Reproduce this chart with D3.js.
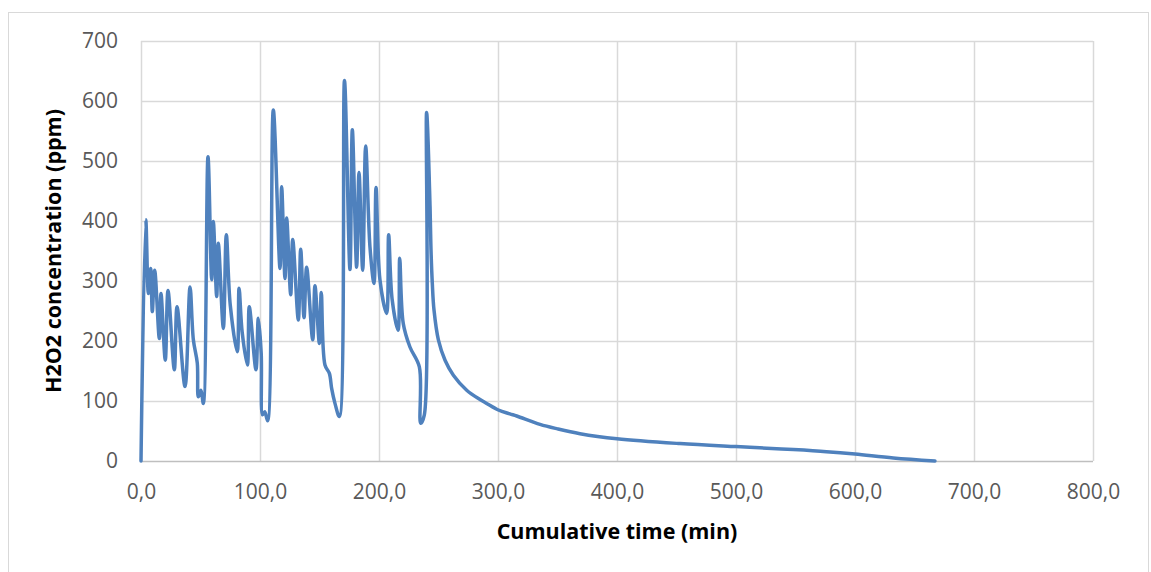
<!DOCTYPE html>
<meta charset="utf-8">
<body style="margin:0;background:#fff">
<script src="https://d3js.org/d3.v7.min.js"></script>
<div id="my_dataviz"></div>
</body>

<script>

// Cumulative time (min) and H2O2 concentration (ppm)
var timeMin = [0, 4, 6.2, 8.1, 9.5, 11.5, 15.4, 16.8, 20.4, 22.7, 28, 30.3, 37, 41.2, 44, 47.3, 48.2, 50.4, 52.4,
  56.3, 59.4, 60.8, 63.6, 65, 69.2, 71.7, 75, 80.9, 82.4, 85, 89.4, 91, 96.6, 98.6, 101, 102.2, 104, 106.4,
  111.2, 116.8, 118.2, 121, 122.4, 125.8, 127.5, 132.2, 134.2, 137, 139.2, 144.3, 146.2, 149.9, 151.5, 154.6, 158.3, 160.2, 163, 166.7,
  171, 175.6, 177.6, 181.2, 183.2, 186.3, 188.8, 192.4, 195.8, 197.5, 200.8, 206.4, 208.1, 211, 216, 217.4, 220.4, 226, 233.9, 235, 238.1,
  240, 242.9, 243.7, 244.8, 246.2, 249.9, 255.5, 262.5, 273.7, 284.9, 290.5, 300.3, 310, 315.7, 335.3, 350, 368.9, 400, 452.9, 500, 520, 548.2, 576, 600, 632.2, 667.2]
var h2o2Ppm = [0, 402, 279, 321, 249, 318, 204, 279, 168, 284, 152, 257, 124, 290, 202, 163, 107, 118, 96,
  507, 302, 399, 274, 363, 221, 377, 260, 182, 288, 215, 160, 257, 152, 238, 180, 77, 82, 67,
  585, 321, 457, 304, 405, 277, 369, 235, 353, 239, 323, 202, 292, 196, 281, 160, 146, 121, 96, 74,
  634, 319, 552, 323, 481, 318, 525, 357, 296, 456, 302, 246, 377, 270, 218, 338, 229, 190, 157, 63, 77,
  581, 424, 352, 296, 252, 202, 168, 143, 118, 102.5, 96, 85, 78.5, 75, 61, 53.5, 45.5, 37, 29, 24, 22, 19, 15.5, 11.5, 5, 0]

var xTicks = [0, 100, 200, 300, 400, 500, 600, 700, 800]
var yTicks = [0, 100, 200, 300, 400, 500, 600, 700]

var data = timeMin.map(function(t, i) { return {t: t, v: h2o2Ppm[i]} })

// Graph dimension
var W = 1151, H = 572
var margin = {top: 41, right: 58, bottom: 111, left: 141},
    width = W - margin.left - margin.right,
    height = H - margin.top - margin.bottom

var root = d3.select("#my_dataviz")
  .append("svg")
    .attr("width", W)
    .attr("height", H)
    .style("display", "block")

// chart frame
root.append("rect")
  .attr("x", 8.5)
  .attr("y", 12.5)
  .attr("width", 1140)
  .attr("height", 600)
  .style("fill", "none")
  .style("stroke", "#d9d9d9")

var svg = root.append("g")
  .attr("transform", "translate(" + margin.left + "," + margin.top + ")")

var x = d3.scaleLinear().domain([0, 800]).range([0, width])
var y = d3.scaleLinear().domain([0, 700]).range([height, 0])

// gridlines
svg.append("g")
  .selectAll("line")
  .data(yTicks.filter(function(d) { return d > 0 }))
  .join("line")
    .attr("x1", 0).attr("x2", width)
    .attr("y1", function(d) { return Math.round(y(d)) + 0.5 })
    .attr("y2", function(d) { return Math.round(y(d)) + 0.5 })
    .style("stroke", "#d9d9d9")
    .style("stroke-width", 1.5)

svg.append("g")
  .selectAll("line")
  .data(xTicks)
  .join("line")
    .attr("x1", function(d) { return Math.round(x(d)) + 0.5 })
    .attr("x2", function(d) { return Math.round(x(d)) + 0.5 })
    .attr("y1", 0).attr("y2", height)
    .style("stroke", "#d9d9d9")
    .style("stroke-width", 1.5)

// x axis line
svg.append("line")
  .attr("x1", 0).attr("x2", width)
  .attr("y1", height + 0.5).attr("y2", height + 0.5)
  .style("stroke", "#bfbfbf")
  .style("stroke-width", 1.5)

// tick labels
var xAxis = d3.axisBottom(x)
  .tickValues(xTicks)
  .tickSize(0)
  .tickPadding(23)
  .tickFormat(function(d) { return d3.format(".1f")(d).replace(".", ",") })
svg.append("g")
  .attr("transform", "translate(0," + height + ")")
  .call(xAxis)
  .call(function(g) { g.select(".domain").remove() })
  .selectAll("text")
    .style("font-family", "'Open Sans', sans-serif")
    .style("font-size", "21px")
    .style("fill", "#595959")

var yAxis = d3.axisLeft(y)
  .tickValues(yTicks)
  .tickSize(0)
  .tickPadding(23)
svg.append("g")
  .call(yAxis)
  .call(function(g) { g.select(".domain").remove() })
  .selectAll("text")
    .style("font-family", "'Open Sans', sans-serif")
    .style("font-size", "21px")
    .style("fill", "#595959")

// the line (smoothed like the spreadsheet's line)
svg.append("path")
  .datum(data)
  .attr("d", d3.line()
    .x(function(d) { return x(d.t) })
    .y(function(d) { return y(d.v) })
    .curve(d3.curveCatmullRom.alpha(0.5)))
  .style("fill", "none")
  .style("stroke", "#4f81bd")
  .style("stroke-width", 3.5)
  .style("stroke-linejoin", "round")
  .style("stroke-linecap", "round")

// axis titles
svg.append("text")
  .attr("x", width / 2)
  .attr("y", 498)
  .attr("text-anchor", "middle")
  .style("font-family", "'Open Sans', sans-serif")
  .style("font-weight", "bold")
  .style("font-size", "21.5px")
  .style("fill", "#000")
  .text("Cumulative time (min)")

svg.append("text")
  .attr("transform", "translate(" + (-80) + "," + (height / 2) + ") rotate(-90)")
  .attr("text-anchor", "middle")
  .style("font-family", "'Open Sans', sans-serif")
  .style("font-weight", "bold")
  .style("font-size", "21.5px")
  .style("fill", "#000")
  .text("H2O2 concentration (ppm)")

</script>
